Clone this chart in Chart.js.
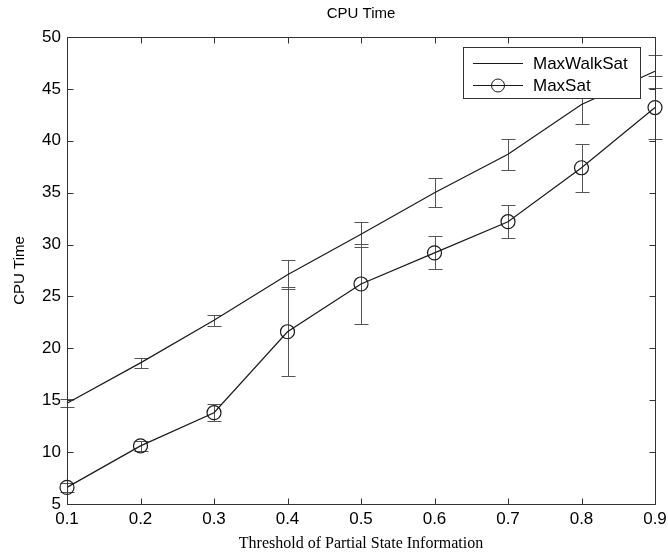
<!DOCTYPE html>
<html>
<head>
<meta charset="utf-8">
<script src="https://cdn.jsdelivr.net/npm/chart.js@4.4.1/dist/chart.umd.min.js"></script>
<style>
  html, body { margin: 0; padding: 0; background: #fff; }
  #wrap { width: 668px; height: 553px; }
</style>
</head>
<body>
<div id="wrap"><canvas id="chart"></canvas></div>
<script>
const thresholds = [0.1, 0.2, 0.3, 0.4, 0.5, 0.6, 0.7, 0.8, 0.9];
const walkSat = [14.7, 18.6, 22.7, 27.1, 31.0, 35.0, 38.7, 43.5, 46.7];
const walkSatErr = [0.4, 0.5, 0.5, 1.4, 1.2, 1.4, 1.5, 1.9, 1.6];
const maxSat = [6.6, 10.6, 13.8, 21.6, 26.2, 29.2, 32.2, 37.4, 43.2];
const maxSatErr = [0.4, 0.5, 0.8, 4.3, 3.9, 1.6, 1.6, 2.3, 3.0];
const xTicks = [0.1, 0.2, 0.3, 0.4, 0.5, 0.6, 0.7, 0.8, 0.9];
const yTicks = [5, 10, 15, 20, 25, 30, 35, 40, 45, 50];
const seriesNames = ["MaxWalkSat", "MaxSat"];

const ink = "#1a1a1a";
const sans = "'Liberation Sans', Arial, sans-serif";

function points(ys) {
  return thresholds.map((x, i) => ({ x, y: ys[i] }));
}

// vertical error bars with caps, drawn under the lines
const errorBars = {
  id: "errorBars",
  beforeDatasetsDraw(chart) {
    const { ctx, scales: { x, y } } = chart;
    ctx.save();
    ctx.strokeStyle = "#555";
    ctx.lineWidth = 1;
    chart.data.datasets.forEach((ds) => {
      ds.data.forEach((p, i) => {
        const e = ds.errors[i];
        const px = Math.round(x.getPixelForValue(p.x)) + 0.5;
        const top = Math.round(y.getPixelForValue(p.y + e)) + 0.5;
        const bot = Math.round(y.getPixelForValue(p.y - e)) + 0.5;
        ctx.beginPath();
        ctx.moveTo(px, top); ctx.lineTo(px, bot);
        ctx.moveTo(px - 7, top); ctx.lineTo(px + 7, top);
        ctx.moveTo(px - 7, bot); ctx.lineTo(px + 7, bot);
        ctx.stroke();
      });
    });
    ctx.restore();
  },
};

// matlab style box with inward ticks on all sides, plus the legend box
const frame = {
  id: "frame",
  afterDatasetsDraw(chart) {
    const { ctx, chartArea: a, scales: { x, y } } = chart;
    ctx.save();
    ctx.strokeStyle = "#333";
    ctx.lineWidth = 1;
    ctx.beginPath();
    const L = Math.round(a.left) + 0.5, R = Math.round(a.right) + 0.5;
    const T = Math.round(a.top) + 0.5, B = Math.round(a.bottom) + 0.5;
    ctx.rect(L, T, R - L, B - T);
    const len = 6;
    x.ticks.forEach((t, i) => {
      const px = Math.round(x.getPixelForTick(i)) + 0.5;
      ctx.moveTo(px, B); ctx.lineTo(px, B - len);
      ctx.moveTo(px, T); ctx.lineTo(px, T + len);
    });
    y.ticks.forEach((t, i) => {
      const py = Math.round(y.getPixelForTick(i)) + 0.5;
      ctx.moveTo(L, py); ctx.lineTo(L + len, py);
      ctx.moveTo(R, py); ctx.lineTo(R - len, py);
    });
    ctx.stroke();
    ctx.restore();
  },
  afterDraw(chart) {
    const { ctx } = chart;
    const box = { l: 463, t: 47, r: 640, b: 98 };
    ctx.save();
    ctx.fillStyle = "#fff";
    ctx.fillRect(box.l, box.t, box.r - box.l, box.b - box.t);
    ctx.strokeStyle = "#333";
    ctx.lineWidth = 1;
    ctx.strokeRect(box.l + 0.5, box.t + 0.5, box.r - box.l, box.b - box.t);
    ctx.font = "17px " + sans;
    ctx.fillStyle = "#000";
    ctx.textBaseline = "middle";
    const rows = [63, 85];
    chart.data.datasets.forEach((ds, i) => {
      const yy = rows[i] + 0.5;
      ctx.strokeStyle = ink;
      ctx.beginPath();
      ctx.moveTo(473, yy); ctx.lineTo(523, yy);
      ctx.stroke();
      if (ds.pointRadius > 0) {
        ctx.beginPath();
        ctx.arc(498, yy, 6.5, 0, Math.PI * 2);
        ctx.stroke();
      }
      ctx.fillText(ds.label, 533, rows[i] + 1);
    });
    ctx.restore();
  },
};

new Chart(document.getElementById("chart"), {
  type: "line",
  data: {
    datasets: [
      {
        label: seriesNames[0],
        data: points(walkSat),
        errors: walkSatErr,
        borderColor: ink,
        borderWidth: 1.2,
        pointRadius: 0,
        tension: 0,
        clip: false,
      },
      {
        label: seriesNames[1],
        data: points(maxSat),
        errors: maxSatErr,
        borderColor: ink,
        borderWidth: 1.2,
        pointRadius: 7,
        pointBorderWidth: 1.2,
        pointBorderColor: ink,
        pointBackgroundColor: "rgba(0,0,0,0)",
        tension: 0,
        clip: false,
      },
    ],
  },
  options: {
    responsive: true,
    maintainAspectRatio: false,
    animation: false,
    layout: { padding: { left: 0, right: 13, top: 0, bottom: 0 } },
    plugins: {
      legend: { display: false },
      tooltip: { enabled: false },
      title: {
        display: true,
        fullSize: false,
        text: "CPU Time",
        color: "#000",
        font: { family: sans, size: 15, weight: "normal" },
        padding: { top: 5, bottom: 14 },
      },
    },
    scales: {
      x: {
        type: "linear",
        min: 0.1,
        max: 0.9,
        afterBuildTicks: (s) => { s.ticks = xTicks.map((v) => ({ value: v })); },
        afterFit: (s) => { s.height = 49; s.paddingRight = 0; s.paddingLeft = 0; },
        grid: { display: false, drawTicks: false },
        border: { display: false },
        ticks: {
          color: "#000",
          padding: 5,
          maxRotation: 0,
          font: { family: sans, size: 17 },
          callback: (v) => v.toFixed(1),
        },
        title: {
          display: true,
          text: "Threshold of Partial State Information",
          color: "#000",
          font: { family: "'Liberation Serif', 'Times New Roman', serif", size: 16 },
          padding: { top: 0, bottom: 0 },
        },
      },
      y: {
        min: 5,
        max: 50,
        afterBuildTicks: (s) => { s.ticks = yTicks.map((v) => ({ value: v })); },
        afterFit: (s) => { s.width = 67; },
        grid: { display: false, drawTicks: false },
        border: { display: false },
        ticks: {
          color: "#000",
          padding: 6,
          font: { family: sans, size: 17 },
        },
        title: {
          display: true,
          text: "CPU Time",
          color: "#000",
          font: { family: sans, size: 15 },
          padding: { top: 11, bottom: 0 },
        },
      },
    },
  },
  plugins: [errorBars, frame],
});
</script>
</body>
</html>
